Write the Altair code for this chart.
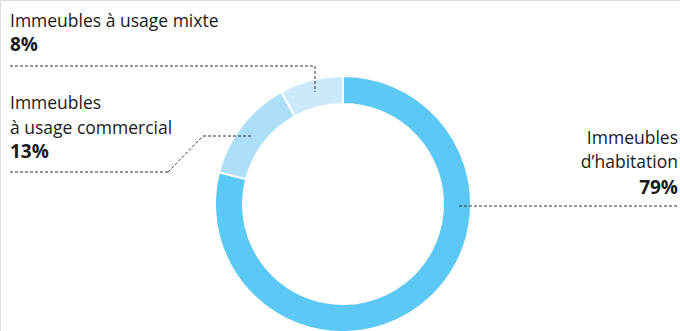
import altair as alt
import pandas as pd

categories = ["Immeubles d\u2019habitation", "Immeubles à usage commercial", "Immeubles à usage mixte"]
values = [79, 13, 8]
colors = ["#5BC8F5", "#ADDFF9", "#CCE9FC"]

df = pd.DataFrame({"cat": categories, "val": values, "ord": [0, 1, 2]})

W, H = 680, 331
CX, CY = 343, 204
FONT = "Open Sans"
INK = "#1a1a1a"
LINE = "#333333"

donut = alt.Chart(df).mark_arc(innerRadius=100, outerRadius=128, stroke="white", strokeWidth=2).encode(
    theta=alt.Theta("val:Q", stack=True),
    order=alt.Order("ord:Q"),
    color=alt.Color("cat:N", scale=alt.Scale(domain=categories, range=colors), legend=None),
    x=alt.value(CX), y=alt.value(CY),
)

base = alt.Chart(pd.DataFrame({"a": [0]}))

def txt(s, x, y, align="left", bold=False):
    return base.mark_text(text=s, align=align, baseline="alphabetic", font=FONT,
                          fontSize=19 if bold else 17.5,
                          fontWeight="bold" if bold else "normal", color=INK).encode(
        x=alt.value(x), y=alt.value(y))

def seg(x1, y1, x2, y2):
    return base.mark_rule(stroke=LINE, strokeWidth=1, strokeDash=[3, 2]).encode(
        x=alt.value(x1), y=alt.value(y1), x2=alt.value(x2), y2=alt.value(y2))

pct = [f"{v}%" for v in values]

layers = [
    donut,
    # mixte
    txt("Immeubles à usage mixte", 10, 27),
    txt(pct[2], 10, 51, bold=True),
    seg(10, 66, 315, 66), seg(315, 66, 315, 92),
    # commercial
    txt("Immeubles", 10, 109),
    txt("à usage commercial", 10, 134),
    txt(pct[1], 10, 158, bold=True),
    seg(10, 172, 168, 172), seg(168, 172, 203, 136), seg(203, 136, 251, 136),
    # habitation
    txt("Immeubles", 678, 144, align="right"),
    txt("d\u2019habitation", 678, 168, align="right"),
    txt(pct[0], 678, 194, align="right", bold=True),
    seg(459, 206, 678, 206),
]

chart = alt.layer(*layers).properties(
    width=W, height=H, autosize=alt.AutoSizeParams(type="none"), padding=0
).configure_view(stroke="transparent", strokeWidth=0, strokeOpacity=0).configure(background="white")

chart.save("out.html", embed_options={"renderer": "svg", "actions": False})
